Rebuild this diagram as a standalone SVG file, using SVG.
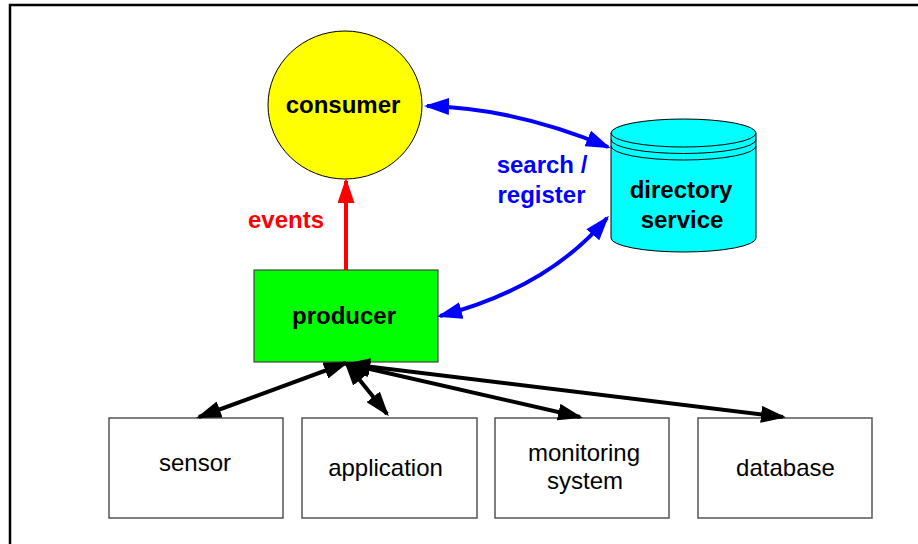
<svg xmlns="http://www.w3.org/2000/svg" width="918" height="544" viewBox="0 0 918 544">
<style>
.bold{font-family:"Liberation Sans",Arial,sans-serif;font-weight:bold;font-size:24px;text-anchor:middle}
.reg{font-family:"Liberation Sans",Arial,sans-serif;font-size:24px;text-anchor:middle;fill:#000}
.box{fill:#fff;stroke:#555;stroke-width:1.5}
.blk{fill:none;stroke:#000;stroke-width:4}
.blu{fill:none;stroke:#0000ff;stroke-width:4}
.red{fill:none;stroke:#ff0000;stroke-width:4}
</style>
<defs>
<marker id="ab" viewBox="0 0 25 17" refX="22" refY="8.5" markerWidth="25" markerHeight="17" markerUnits="userSpaceOnUse" orient="auto-start-reverse"><path d="M0,0 L25,8.5 L0,17 z" fill="#000"/></marker>
<marker id="au" viewBox="0 0 25 17" refX="22" refY="8.5" markerWidth="25" markerHeight="17" markerUnits="userSpaceOnUse" orient="auto-start-reverse"><path d="M0,0 L25,8.5 L0,17 z" fill="#0000ff"/></marker>
<marker id="ar" viewBox="0 0 25 17" refX="22" refY="8.5" markerWidth="25" markerHeight="17" markerUnits="userSpaceOnUse" orient="auto-start-reverse"><path d="M0,0 L25,8.5 L0,17 z" fill="#ff0000"/></marker>
</defs>
<rect x="10" y="5" width="930" height="570" fill="#fff" stroke="#000" stroke-width="2.5"/>
<g id="consumer">
<ellipse cx="345" cy="105" rx="77" ry="74" fill="#ffff00" stroke="#000" stroke-width="1"/>
<text class="bold" x="343" y="113">consumer</text>
</g>
<g id="directory">
<path d="M611,133 L611,238 A72.5,14 0 0 0 756,238 L756,133 Z" fill="#00ffff" stroke="#000" stroke-width="1"/>
<ellipse cx="683.5" cy="133" rx="72.5" ry="14" fill="#00ffff" stroke="#000" stroke-width="1"/>
<path d="M611,139.5 A72.5,14 0 0 0 756,139.5 M611,146 A72.5,14 0 0 0 756,146" fill="none" stroke="#000" stroke-width="1"/>
<text class="bold" x="681" y="198">directory</text>
<text class="bold" x="682" y="228">service</text>
</g>
<g id="producer">
<rect x="254" y="270" width="184" height="92" fill="#00ff00" stroke="#444" stroke-width="1.2"/>
<text class="bold" x="344" y="324">producer</text>
</g>
<g id="sensor">
<rect class="box" x="109" y="418" width="174" height="100"/>
<text class="reg" x="195" y="471">sensor</text>
</g>
<g id="application">
<rect class="box" x="302" y="418" width="175" height="100"/>
<text class="reg" x="385.5" y="476">application</text>
</g>
<g id="monitoring">
<rect class="box" x="495" y="418" width="174" height="100"/>
<text class="reg" x="584" y="461">monitoring</text>
<text class="reg" x="585" y="489">system</text>
</g>
<g id="database">
<rect class="box" x="698" y="418" width="174" height="100"/>
<text class="reg" x="785.5" y="476">database</text>
</g>
<g id="connectors">
<path class="red" d="M346,270 L346,181" marker-end="url(#ar)"/>
<path class="blu" d="M427,106 Q515,108 608,147" marker-start="url(#au)" marker-end="url(#au)"/>
<path class="blu" d="M607,218 Q548,288 440,316" marker-start="url(#au)" marker-end="url(#au)"/>
<path class="blk" d="M346,363 L199,417" marker-start="url(#ab)" marker-end="url(#ab)"/>
<path class="blk" d="M346,363 L387,414" marker-start="url(#ab)" marker-end="url(#ab)"/>
<path class="blk" d="M348,364 L580,417" marker-start="url(#ab)" marker-end="url(#ab)"/>
<path class="blk" d="M348,364 L783,417" marker-start="url(#ab)" marker-end="url(#ab)"/>
<text class="bold" x="286" y="228" fill="#ff0000">events</text>
<text class="bold" x="542" y="173" fill="#0000ff">search /</text>
<text class="bold" x="541.5" y="203" fill="#0000ff">register</text>
</g>
</svg>
